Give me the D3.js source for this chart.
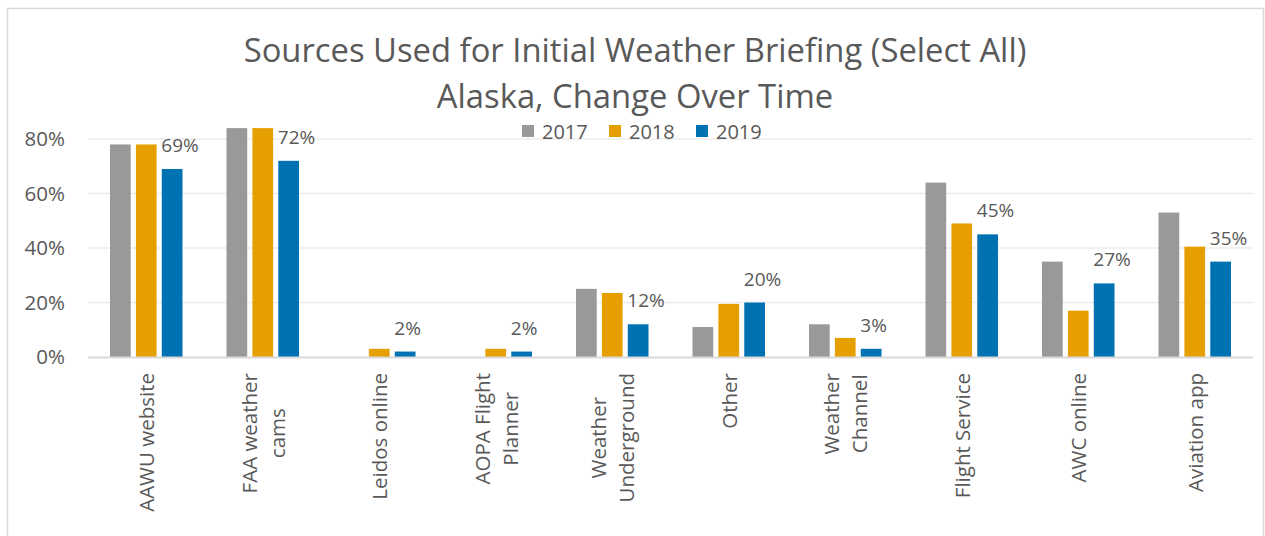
<!DOCTYPE html>
<html>
<head>
<meta charset="utf-8">
<script src="https://cdn.jsdelivr.net/npm/d3@7"></script>
<style>
  html, body { margin: 0; padding: 0; background: #fff; }
  svg text { font-family: "Open Sans", sans-serif; fill: #595959; }
</style>
</head>
<body>
<svg id="chart" width="1265" height="536"></svg>
<script>
// Data
const categories = ["AAWU website", "FAA weather cams", "Leidos online", "AOPA Flight Planner",
  "Weather Underground", "Other", "Weather Channel", "Flight Service", "AWC online", "Aviation app"];
const categoryLines = [["AAWU website"], ["FAA weather", "cams"], ["Leidos online"], ["AOPA Flight", "Planner"],
  ["Weather", "Underground"], ["Other"], ["Weather", "Channel"], ["Flight Service"], ["AWC online"], ["Aviation app"]];
const years = ["2017", "2018", "2019"];
const values2017 = [78, 84, 0, 0, 25, 11, 12, 64, 35, 53];
const values2018 = [78, 84, 3, 3, 23.5, 19.5, 7, 49, 17, 40.5];
const values2019 = [69, 72, 2, 2, 12, 20, 3, 45, 27, 35];
const yTicks = [0, 20, 40, 60, 80];
const titleLines = ["Sources Used for Initial Weather Briefing (Select All)", "Alaska, Change Over Time"];
const colors = ["#999999", "#E69F00", "#0072B2"];

const seriesValues = [values2017, values2018, values2019];

const dims = { left: 88, right: 1253, top: 139, bottom: 357 };

const svg = d3.select('#chart');

// Frame
svg.append('rect')
  .attr('x', 7.5).attr('y', 8.5)
  .attr('width', 1256).attr('height', 560)
  .attr('fill', '#fff')
  .attr('stroke', '#d9d9d9')
  .attr('stroke-width', 1.5);

// Title
const title = svg.append('g');
title.selectAll('text')
  .data(titleLines)
  .enter()
  .append('text')
  .attr('x', 635)
  .attr('y', (d, i) => 62 + i * 46)
  .attr('text-anchor', 'middle')
  .style('font-size', '31px')
  .text(d => d);
// fit title width to the reference
const t0 = title.select('text').node();
const fs = 31 * 783 / t0.getComputedTextLength();
title.selectAll('text').style('font-size', fs + 'px');

// Scales
const x0 = d3.scaleBand()
  .domain(categories)
  .range([dims.left, dims.right]);

const x1 = d3.scaleBand()
  .domain(years)
  .range([22, x0.bandwidth() - 22])
  .paddingInner(0.2);

const y = d3.scaleLinear()
  .domain([0, 80])
  .range([dims.bottom, dims.top]);

// Gridlines
svg.append('g')
  .selectAll('line')
  .data(yTicks.filter(d => d > 0))
  .enter()
  .append('line')
  .attr('x1', dims.left).attr('x2', dims.right)
  .attr('y1', d => y(d)).attr('y2', d => y(d))
  .attr('stroke', '#ececec')
  .attr('stroke-width', 1.5);

// Y axis labels
const yAxis = svg.append('g')
  .attr('transform', `translate(${dims.left}, 0)`)
  .call(d3.axisLeft(y).tickValues(yTicks).tickFormat(d => d + '%').tickSize(0).tickPadding(23));
yAxis.select('.domain').remove();
yAxis.selectAll('text')
  .style('font-size', '20.5px')
  .style('fill', '#595959')
  .style('font-family', '"Open Sans", sans-serif');

// Bars
const groups = svg.append('g')
  .selectAll('g')
  .data(categories)
  .enter()
  .append('g')
  .attr('transform', d => `translate(${x0(d)}, 0)`);

groups.selectAll('rect')
  .data((d, i) => years.map((yr, s) => ({ year: yr, s: s, value: seriesValues[s][i] })))
  .enter()
  .append('rect')
  .attr('x', d => x1(d.year))
  .attr('y', d => y(d.value))
  .attr('width', x1.bandwidth())
  .attr('height', d => y(0) - y(d.value))
  .attr('fill', d => colors[d.s]);

// Data labels (2019)
groups.append('text')
  .attr('x', x1('2019') - 0.5)
  .attr('y', (d, i) => y(values2019[i]) - 24)
  .attr('dominant-baseline', 'central')
  .style('font-size', '19px')
  .text((d, i) => values2019[i] + '%');

// X axis line
svg.append('line')
  .attr('x1', dims.left).attr('x2', dims.right)
  .attr('y1', y(0) + 0.5).attr('y2', y(0) + 0.5)
  .attr('stroke', '#d9d9d9')
  .attr('stroke-width', 2);

// Category labels (rotated)
const lineH = 28;
const catLabels = svg.append('g')
  .selectAll('g')
  .data(categories)
  .enter()
  .append('g')
  .attr('transform', d => `translate(${x0(d) + x0.bandwidth() / 2}, 373) rotate(-90)`);

catLabels.each(function(d, i) {
  const g = d3.select(this);
  const lines = categoryLines[i];
  const texts = g.selectAll('text')
    .data(lines)
    .enter()
    .append('text')
    .attr('text-anchor', 'middle')
    .style('font-size', '20.5px')
    .attr('y', (l, j) => 8 + (j - (lines.length - 1) / 2) * lineH)
    .text(l => l);
  let maxW = 0;
  texts.each(function() { maxW = Math.max(maxW, this.getComputedTextLength()); });
  texts.attr('x', -maxW / 2);
});

// Legend
const legend = svg.append('g')
  .selectAll('g')
  .data(years)
  .enter()
  .append('g')
  .attr('transform', (d, i) => `translate(${522 + i * 87}, 125)`);

legend.append('rect')
  .attr('width', 12).attr('height', 12)
  .attr('fill', (d, i) => colors[i]);

legend.append('text')
  .attr('x', 20)
  .attr('y', 6.5)
  .attr('dominant-baseline', 'central')
  .style('font-size', '20px')
  .text(d => d);
</script>
</body>
</html>
